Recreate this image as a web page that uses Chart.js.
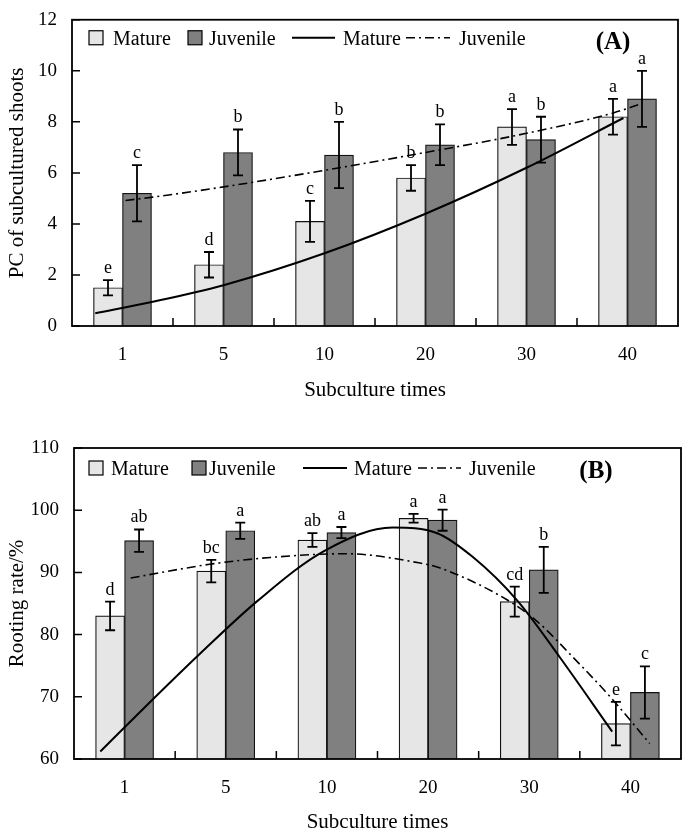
<!DOCTYPE html>
<html>
<head>
<meta charset="utf-8">
<script src="https://cdn.jsdelivr.net/npm/chart.js@4.4.0/dist/chart.umd.min.js"></script>
<style>
    body { margin: 0; background: #fff; width: 685px; height: 831px; overflow: hidden; position: relative; }
    canvas { position: absolute; left: 0; }
    #chartA { top: 0; }
    #chartB { top: 420px; }
</style>
</head>
<body>
<canvas id="chartA" width="685" height="410"></canvas>
<canvas id="chartB" width="685" height="420"></canvas>
<script>
// ---------- DATA ----------
const categories = ["1", "5", "10", "20", "30", "40"];

// (A) PC of subcultured shoots
const shootsMature = [1.5, 2.4, 4.1, 5.8, 7.8, 8.2];
const shootsMatureErr = [0.3, 0.5, 0.8, 0.5, 0.7, 0.7];
const shootsMatureLetters = ["e", "d", "c", "b", "a", "a"];
const shootsJuvenile = [5.2, 6.8, 6.7, 7.1, 7.3, 8.9];
const shootsJuvenileErr = [1.1, 0.9, 1.3, 0.8, 0.9, 1.1];
const shootsJuvenileLetters = ["c", "b", "b", "b", "b", "a"];
// trend lines (x in category steps, 0 = "1")
const shootsMatureFitX = [-0.27, 0.3, 1.0, 2.0, 3.0, 4.0, 4.96];
const shootsMatureFitY = [0.5, 0.95, 1.6, 2.85, 4.4, 6.2, 8.15];
const shootsJuvenileFitX = [0.03, 0.3, 1.0, 2.0, 3.0, 4.0, 4.86, 5.13];
const shootsJuvenileFitY = [4.92, 5.05, 5.45, 6.1, 6.8, 7.55, 8.35, 8.7];

// (B) Rooting rate
const rootMature = [83.0, 90.2, 95.2, 98.7, 85.3, 65.7];
const rootMatureErr = [2.3, 1.8, 1.1, 0.7, 2.4, 3.5];
const rootMatureLetters = ["d", "bc", "ab", "a", "cd", "e"];
const rootJuvenile = [95.1, 96.7, 96.4, 98.4, 90.4, 70.7];
const rootJuvenileErr = [1.8, 1.3, 0.9, 1.7, 3.7, 4.2];
const rootJuvenileLetters = ["ab", "a", "a", "a", "b", "c"];
const rootMatureFitX = [-0.24, 0.28, 0.75, 1.32, 1.98, 2.65, 3.09, 3.44, 3.88, 4.3, 4.82];
const rootMatureFitY = [61.2, 69.6, 77.0, 85.5, 93.5, 97.2, 96.3, 92.5, 85.5, 76.4, 64.4];
const rootJuvenileFitX = [0.06, 0.84, 1.44, 2.18, 2.92, 3.12, 3.78, 4.08, 4.43, 4.8, 5.19];
const rootJuvenileFitY = [89.1, 91.3, 92.4, 93.0, 91.5, 90.7, 85.6, 82.1, 76.4, 70.0, 62.5];

// ---------- STYLE ----------
const SERIF = '"Liberation Serif", "Times New Roman", serif';
const MATURE_FILL = "#e6e6e6";
const JUVENILE_FILL = "#808080";
const DASH_DOT = [9, 4, 2, 4];

function points(xs, ys) {
    return xs.map((x, i) => ({ x: x, y: ys[i] }));
}

// ---------- DRAWING PLUGIN (frame, inner ticks, error bars, letters, legend) ----------
const decoPlugin = {
    id: "deco",
    afterDatasetsDraw(chart, args, opts) {
        const ctx = chart.ctx;
        const area = chart.chartArea;
        const xScale = chart.scales.x;
        const yScale = chart.scales.y;
        ctx.save();
        ctx.strokeStyle = "#000";
        ctx.fillStyle = "#000";

        // error bars + letters
        chart.data.datasets.forEach((ds, di) => {
            if (!ds.errors) return;
            const meta = chart.getDatasetMeta(di);
            meta.data.forEach((bar, j) => {
                const top = yScale.getPixelForValue(ds.data[j] + ds.errors[j]);
                const bot = yScale.getPixelForValue(ds.data[j] - ds.errors[j]);
                ctx.lineWidth = 1.8;
                ctx.beginPath();
                ctx.moveTo(bar.x, top); ctx.lineTo(bar.x, bot);
                ctx.moveTo(bar.x - 5, top); ctx.lineTo(bar.x + 5, top);
                ctx.moveTo(bar.x - 5, bot); ctx.lineTo(bar.x + 5, bot);
                ctx.stroke();
                ctx.font = "18px " + SERIF;
                ctx.textAlign = "center";
                ctx.textBaseline = "alphabetic";
                ctx.fillText(ds.letters[j], bar.x, top - 7);
            });
        });

        // frame
        ctx.lineWidth = 1.8;
        ctx.strokeRect(area.left, area.top, area.right - area.left, area.bottom - area.top);

        // ticks pointing inward
        ctx.lineWidth = 1.5;
        ctx.beginPath();
        yScale.ticks.forEach(t => {
            const py = yScale.getPixelForValue(t.value);
            ctx.moveTo(area.left, py); ctx.lineTo(area.left + 8, py);
        });
        for (let i = 1; i < categories.length; i++) {
            const px = (xScale.getPixelForValue(i - 1) + xScale.getPixelForValue(i)) / 2;
            ctx.moveTo(px, area.bottom); ctx.lineTo(px, area.bottom - 8);
        }
        ctx.stroke();

        // legend inside the plot
        const lg = opts.legend;
        const y = area.top + lg.y;
        const L = area.left;
        ctx.font = "20px " + SERIF;
        ctx.textAlign = "left";
        ctx.textBaseline = "alphabetic";
        ctx.lineWidth = 1.2;
        ctx.fillStyle = MATURE_FILL;
        ctx.fillRect(L + lg.box1, y - 7, 14, 14);
        ctx.strokeRect(L + lg.box1, y - 7, 14, 14);
        ctx.fillStyle = JUVENILE_FILL;
        ctx.fillRect(L + lg.box2, y - 7, 14, 14);
        ctx.strokeRect(L + lg.box2, y - 7, 14, 14);
        ctx.fillStyle = "#000";
        ctx.fillText("Mature", L + lg.text1, y + 7);
        ctx.fillText("Juvenile", L + lg.text2, y + 7);
        ctx.fillText("Mature", L + lg.text3, y + 7);
        ctx.fillText("Juvenile", L + lg.text4, y + 7);
        ctx.lineWidth = 2;
        ctx.beginPath();
        ctx.moveTo(L + lg.line1[0], y); ctx.lineTo(L + lg.line1[1], y);
        ctx.stroke();
        ctx.lineWidth = 1.6;
        ctx.setLineDash(DASH_DOT);
        ctx.beginPath();
        ctx.moveTo(L + lg.line2[0], y); ctx.lineTo(L + lg.line2[1], y);
        ctx.stroke();
        ctx.setLineDash([]);

        // panel tag
        ctx.font = "bold 25px " + SERIF;
        ctx.textAlign = "center";
        ctx.fillText(opts.tag, L + lg.tag, area.top + lg.tagY);
        ctx.restore();
    }
};

// ---------- CHART BUILDER ----------
function buildChart(id, cfg) {
    const ctx = document.getElementById(id).getContext("2d");
    return new Chart(ctx, {
        type: "bar",
        data: {
            labels: categories,
            datasets: [
                {
                    type: "line", xAxisID: "xl", yAxisID: "y", data: points(cfg.matureFitX, cfg.matureFitY),
                    borderColor: "#000", borderWidth: 2, pointRadius: 0, fill: false,
                    cubicInterpolationMode: "monotone"
                },
                {
                    type: "line", xAxisID: "xl", yAxisID: "y", data: points(cfg.juvenileFitX, cfg.juvenileFitY),
                    borderColor: "#000", borderWidth: 1.6, borderDash: DASH_DOT, pointRadius: 0, fill: false,
                    cubicInterpolationMode: "monotone"
                },
                {
                    label: "Mature", xAxisID: "x", yAxisID: "y",
                    data: cfg.mature, errors: cfg.matureErr, letters: cfg.matureLetters,
                    backgroundColor: MATURE_FILL, borderColor: "#111", borderWidth: 1.2,
                    barThickness: cfg.barWidth
                },
                {
                    label: "Juvenile", xAxisID: "x", yAxisID: "y",
                    data: cfg.juvenile, errors: cfg.juvenileErr, letters: cfg.juvenileLetters,
                    backgroundColor: JUVENILE_FILL, borderColor: "#111", borderWidth: 1.2,
                    barThickness: cfg.barWidth
                }
            ]
        },
        options: {
            responsive: false,
            animation: false,
            layout: { padding: { top: cfg.padTop, right: cfg.padRight, left: 0, bottom: 0 } },
            plugins: {
                legend: { display: false },
                tooltip: { enabled: false },
                deco: { legend: cfg.legend, tag: cfg.tag }
            },
            scales: {
                x: {
                    type: "category",
                    offset: true,
                    grid: { display: false, drawTicks: false },
                    border: { display: false },
                    ticks: { color: "#000", padding: 18, maxRotation: 0, font: { family: SERIF, size: 19 } },
                    title: {
                        display: true, text: "Subculture times", color: "#000",
                        font: { family: SERIF, size: 21 }, padding: { top: 0, bottom: cfg.xTitlePad }
                    },
                    afterFit: s => { s.height = cfg.xHeight; }
                },
                xl: { type: "linear", min: -0.5, max: 5.5, offset: false, display: false },
                y: {
                    min: cfg.yMin, max: cfg.yMax,
                    grid: { display: false, drawTicks: false },
                    border: { display: false },
                    ticks: { stepSize: cfg.yStep, color: "#000", padding: 15, font: { family: SERIF, size: 19, lineHeight: 0.5 } },
                    title: {
                        display: true, text: cfg.yTitle, color: "#000",
                        font: { family: SERIF, size: 21 }, padding: { top: 5, bottom: 0 }
                    },
                    afterFit: s => { s.width = cfg.yWidth; }
                }
            }
        },
        plugins: [decoPlugin]
    });
}

buildChart("chartA", {
    mature: shootsMature, matureErr: shootsMatureErr, matureLetters: shootsMatureLetters,
    juvenile: shootsJuvenile, juvenileErr: shootsJuvenileErr, juvenileLetters: shootsJuvenileLetters,
    matureFitX: shootsMatureFitX, matureFitY: shootsMatureFitY,
    juvenileFitX: shootsJuvenileFitX, juvenileFitY: shootsJuvenileFitY,
    yMin: 0, yMax: 12, yStep: 2, yTitle: "PC of subcultured shoots", barWidth: 29,
    padTop: 6, padRight: 7, xHeight: 84, xTitlePad: 7, yWidth: 72, tag: "(A)",
    legend: { y: 18, box1: 17, text1: 41, box2: 116, text2: 137, line1: [220, 263], text3: 271, line2: [334, 378], text4: 387, tag: 541, tagY: 29 }
});

buildChart("chartB", {
    mature: rootMature, matureErr: rootMatureErr, matureLetters: rootMatureLetters,
    juvenile: rootJuvenile, juvenileErr: rootJuvenileErr, juvenileLetters: rootJuvenileLetters,
    matureFitX: rootMatureFitX, matureFitY: rootMatureFitY,
    juvenileFitX: rootJuvenileFitX, juvenileFitY: rootJuvenileFitY,
    yMin: 60, yMax: 110, yStep: 10, yTitle: "Rooting rate/%", barWidth: 29,
    padTop: 28, padRight: 4, xHeight: 81, xTitlePad: 5, yWidth: 74, tag: "(B)",
    legend: { y: 20, box1: 15, text1: 37, box2: 118, text2: 135, line1: [229, 273], text3: 280, line2: [344, 387], text4: 395, tag: 522, tagY: 30 }
});
</script>
</body>
</html>
